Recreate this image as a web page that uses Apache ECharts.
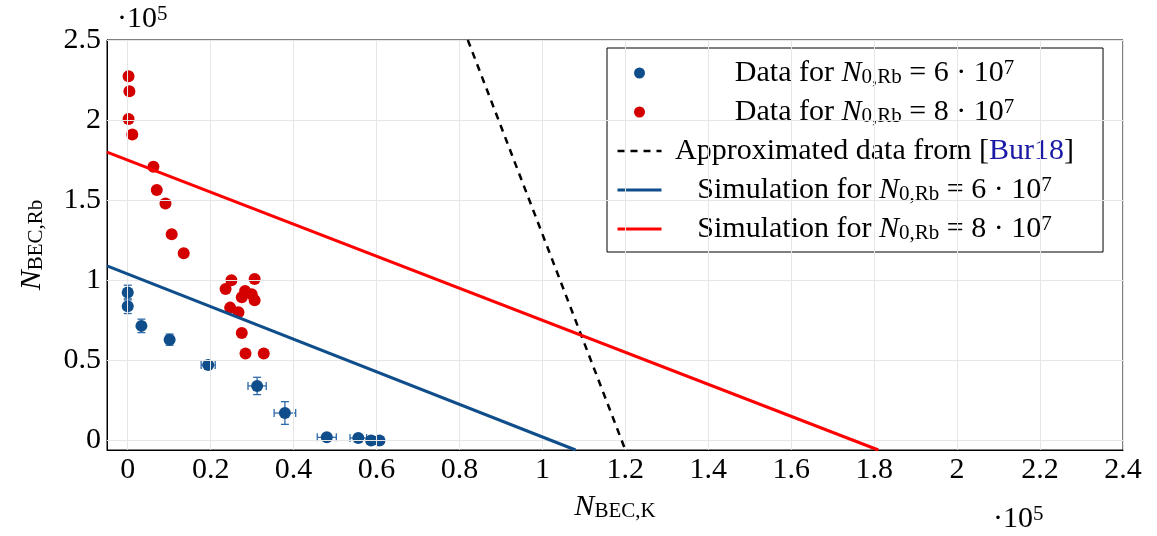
<!DOCTYPE html>
<html>
<head>
<meta charset="utf-8">
<script src="https://cdn.jsdelivr.net/npm/echarts@6/dist/echarts.min.js"></script>
<style>
html,body{margin:0;padding:0;background:#fff;}
#chart{width:1157px;height:536px;}
</style>
</head>
<body>
<div id="chart"></div>
<script>
// ---------- data ----------
const blueX    = [0.000, 0.000, 0.033, 0.101, 0.194, 0.312, 0.379, 0.480, 0.556, 0.587, 0.607];
const blueY    = [0.923, 0.838, 0.715, 0.629, 0.471, 0.340, 0.171, 0.019, 0.015, 0.000, 0.000];
const blueXErr = [0.000, 0.000, 0.000, 0.000, 0.017, 0.022, 0.026, 0.023, 0.020, 0.010, 0.008];
const blueYErr = [0.046, 0.046, 0.042, 0.035, 0.010, 0.054, 0.071, 0.010, 0.010, 0.006, 0.006];

const redX = [0.002, 0.004, 0.002, 0.011, 0.062, 0.070, 0.091, 0.106, 0.135, 0.250, 0.306, 0.236, 0.283, 0.299, 0.275, 0.306, 0.247, 0.267, 0.275, 0.284, 0.328];
const redY = [2.273, 2.180, 2.006, 1.910, 1.708, 1.563, 1.479, 1.287, 1.169, 1.000, 1.008, 0.946, 0.933, 0.913, 0.894, 0.875, 0.829, 0.800, 0.671, 0.542, 0.542];

const burX = [0.82, 1.20];
const burY = [2.50, -0.06];
const simBlueX = [-0.05, 1.08];
const simBlueY = [1.09, -0.06];
const simRedX = [-0.05, 1.81];
const simRedY = [1.80, -0.06];

const xTicks = [0, 0.2, 0.4, 0.6, 0.8, 1, 1.2, 1.4, 1.6, 1.8, 2, 2.2, 2.4];
const yTicks = [0, 0.5, 1, 1.5, 2, 2.5];
const xMin = -0.05, xMax = 2.4, yMin = -0.06, yMax = 2.5;

const seriesNames = ['Data 6e7', 'Data 8e7', 'Approximated data from [Bur18]', 'Simulation 6e7', 'Simulation 8e7'];
const legendTexts = {
  'Data 6e7': '{t|Data for }{n|N}{s|0,Rb}{t| = 6 · 10}{sup|7}',
  'Data 8e7': '{t|Data for }{n|N}{s|0,Rb}{t| = 8 · 10}{sup|7}',
  'Approximated data from [Bur18]': '{t|Approximated data from [}{b|Bur18}{t|]}',
  'Simulation 6e7': '{t|Simulation for }{n|N}{s|0,Rb}{t| = 6 · 10}{sup|7}',
  'Simulation 8e7': '{t|Simulation for }{n|N}{s|0,Rb}{t| = 8 · 10}{sup|7}'
};

// ---------- styles ----------
const FONT = 'Liberation Serif';
const FS = 30;
const FS_SMALL = 21;
const BLUE = '#104e8b';
const RED_DOT = '#d40000';
const RED_LINE = '#ff0000';

function rich(align) {
  const base = {fontFamily: FONT, color: '#000', align: align};
  return {
    t:   Object.assign({}, base, {fontSize: FS, lineHeight: 30}),
    n:   Object.assign({}, base, {fontSize: FS, lineHeight: 30, fontStyle: 'italic'}),
    b:   Object.assign({}, base, {fontSize: FS, lineHeight: 30, color: '#1a1aa6'}),
    s:   Object.assign({}, base, {fontSize: FS_SMALL, lineHeight: 14, verticalAlign: 'bottom'}),
    sup: Object.assign({}, base, {fontSize: FS_SMALL, lineHeight: 14, verticalAlign: 'top'})
  };
}

const pts = (xs, ys) => xs.map((x, i) => [x, ys[i]]);
const errData = blueX.map((x, i) => [x, blueY[i], blueXErr[i], blueYErr[i]]);

const gridLines = xTicks.map(v => ({xAxis: v})).concat(yTicks.map(v => ({yAxis: v})));
const fmt = v => String(+(+v).toFixed(2));

const legendData = seriesNames.map((n, i) => i < 2 ? {name: n}
  : {name: n, itemStyle: {opacity: 0, borderWidth: 0}, lineStyle: {width: i === 2 ? 2.5 : 3}});

const chart = echarts.init(document.getElementById('chart'), null, {renderer: 'canvas'});
chart.setOption({
  animation: false,
  backgroundColor: '#fff',
  grid: {left: 107, right: 34, top: 40, bottom: 86, show: true, borderColor: '#000', borderWidth: 1, backgroundColor: 'transparent'},
  xAxis: [{
    type: 'value', min: xMin, max: xMax,
    axisLine: {show: true, onZero: false, lineStyle: {color: '#000', width: 1}},
    axisTick: {show: true, inside: true, length: 4, customValues: xTicks, lineStyle: {color: '#777'}},
    axisLabel: {show: true, customValues: xTicks, margin: 5, formatter: fmt, fontFamily: FONT, fontSize: FS, color: '#000'},
    splitLine: {show: false},
    name: '{n|N}{s|BEC,K}',
    nameLocation: 'middle', nameGap: 42,
    nameTextStyle: {rich: rich('left')}
  }, {
    type: 'value', min: xMin, max: xMax, position: 'top',
    axisLine: {show: false},
    axisTick: {show: true, inside: true, length: 4, customValues: xTicks, lineStyle: {color: '#777'}},
    axisLabel: {show: false},
    splitLine: {show: false}
  }],
  yAxis: [{
    type: 'value', min: yMin, max: yMax,
    axisLine: {show: true, onZero: false, lineStyle: {color: '#000', width: 1}},
    axisTick: {show: true, inside: true, length: 4, customValues: yTicks, lineStyle: {color: '#777'}},
    axisLabel: {show: true, customValues: yTicks, margin: 6, formatter: fmt, fontFamily: FONT, fontSize: FS, color: '#000'},
    splitLine: {show: false},
    name: '{n|N}{s|BEC,Rb}',
    nameLocation: 'middle', nameGap: 60, nameRotate: 90,
    nameTextStyle: {rich: rich('left')}
  }, {
    type: 'value', min: yMin, max: yMax, position: 'right',
    axisLine: {show: false},
    axisTick: {show: true, inside: true, length: 4, customValues: yTicks, lineStyle: {color: '#777'}},
    axisLabel: {show: false},
    splitLine: {show: false}
  }],
  legend: {
    data: legendData,
    orient: 'vertical',
    left: 607, top: 48,
    padding: [10, 29, 8, 9],
    itemGap: 9,
    itemWidth: 44, itemHeight: 11,
    backgroundColor: '#fff',
    borderColor: '#000', borderWidth: 1, borderRadius: 0,
    formatter: name => legendTexts[name],
    textStyle: {width: 416, fontFamily: FONT, fontSize: FS, color: '#000', rich: rich('center')},
    selectedMode: false
  },
  graphic: [
    {type: 'text', left: 117, top: 4, z: 10,
     style: {text: '{t|·10}{sup|5}', rich: rich('left'), fill: '#000'}},
    {type: 'text', left: 993, top: 504, z: 10,
     style: {text: '{t|·10}{sup|5}', rich: rich('left'), fill: '#000'}}
  ],
  series: [
    {
      name: 'grid', type: 'line', data: [[xMin, yMin]], symbol: 'none', silent: true, z: 1,
      lineStyle: {opacity: 0},
      markLine: {silent: true, symbol: 'none', label: {show: false}, animation: false,
        lineStyle: {color: '#e6e6e6', type: 'solid', width: 1}, data: gridLines}
    },
    {
      name: 'errbars', type: 'custom', z: 3, silent: true,
      data: errData,
      renderItem: function (params, api) {
        const x = api.value(0), y = api.value(1), ex = api.value(2), ey = api.value(3);
        const c = 4;
        const st = {stroke: '#2f6aa8', lineWidth: 1.3};
        const ch = [];
        if (ex > 0) {
          const l = api.coord([x - ex, y]), r = api.coord([x + ex, y]);
          ch.push({type: 'line', shape: {x1: l[0], y1: l[1], x2: r[0], y2: r[1]}, style: st});
          ch.push({type: 'line', shape: {x1: l[0], y1: l[1] - c, x2: l[0], y2: l[1] + c}, style: st});
          ch.push({type: 'line', shape: {x1: r[0], y1: r[1] - c, x2: r[0], y2: r[1] + c}, style: st});
        }
        if (ey > 0) {
          const t = api.coord([x, y + ey]), b = api.coord([x, y - ey]);
          ch.push({type: 'line', shape: {x1: t[0], y1: t[1], x2: b[0], y2: b[1]}, style: st});
          ch.push({type: 'line', shape: {x1: t[0] - c, y1: t[1], x2: t[0] + c, y2: t[1]}, style: st});
          ch.push({type: 'line', shape: {x1: b[0] - c, y1: b[1], x2: b[0] + c, y2: b[1]}, style: st});
        }
        return {type: 'group', children: ch};
      }
    },
    {
      name: seriesNames[0], type: 'scatter', z: 4,
      data: pts(blueX, blueY), symbol: 'circle', symbolSize: 12,
      itemStyle: {color: BLUE, opacity: 1}
    },
    {
      name: seriesNames[1], type: 'scatter', z: 4,
      data: pts(redX, redY), symbol: 'circle', symbolSize: 12,
      itemStyle: {color: RED_DOT, opacity: 1}
    },
    {
      name: seriesNames[2], type: 'line', z: 5,
      data: pts(burX, burY), symbol: 'none', clip: true,
      lineStyle: {color: '#000', width: 2.5, type: [7, 6]},
      itemStyle: {color: '#000'}
    },
    {
      name: seriesNames[3], type: 'line', z: 5,
      data: pts(simBlueX, simBlueY), symbol: 'none', clip: true,
      lineStyle: {color: BLUE, width: 3},
      itemStyle: {color: BLUE}
    },
    {
      name: seriesNames[4], type: 'line', z: 5,
      data: pts(simRedX, simRedY), symbol: 'none', clip: true,
      lineStyle: {color: RED_LINE, width: 3},
      itemStyle: {color: RED_LINE}
    }
  ]
});
</script>
</body>
</html>
